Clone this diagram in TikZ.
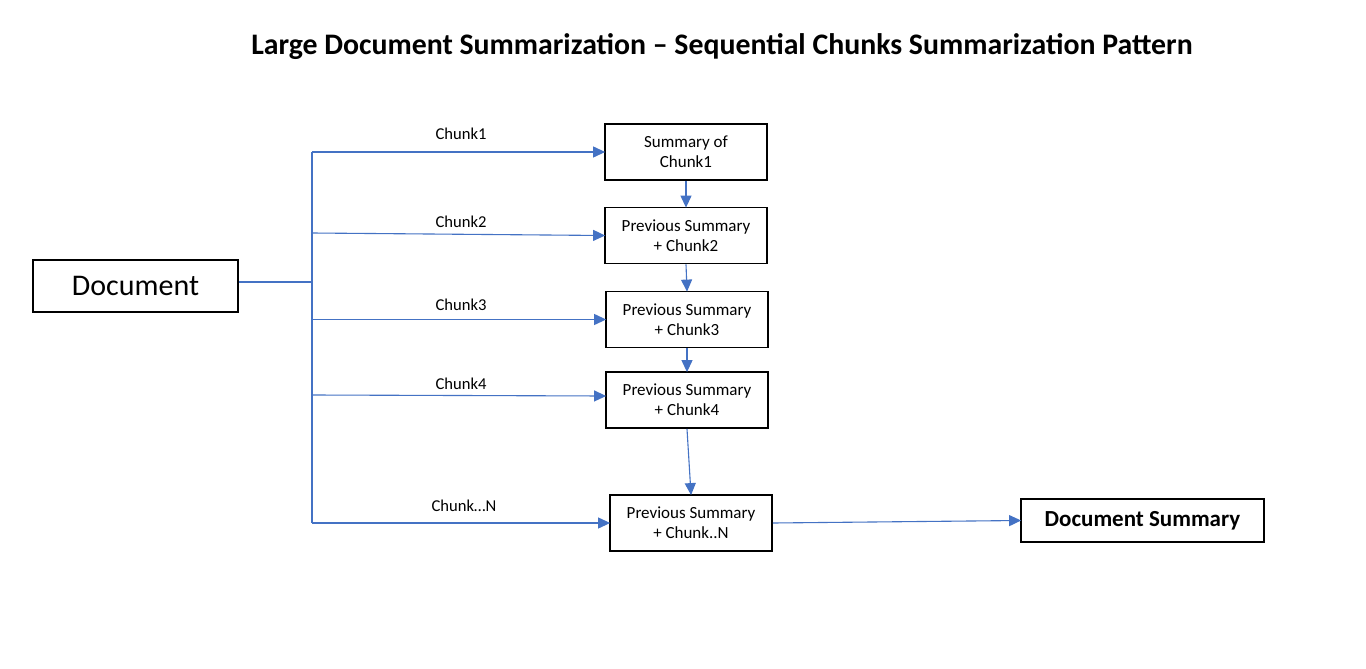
\documentclass[tikz,border=0pt]{standalone}
\usepackage{fontspec}
\setmainfont{Carlito}
\usetikzlibrary{arrows.meta}
\definecolor{conn}{HTML}{4472C4}
\tikzset{
  box/.style={draw=black, line width=1.8pt, fill=white, inner sep=0pt, align=center},
  stepbox/.style={box, minimum width=162pt, minimum height=56pt, font=\fontsize{17}{20}\selectfont},
  lbl/.style={inner sep=0pt, font=\fontsize{16.6}{19}\selectfont},
  conn/.style={draw=conn, line width=1.1pt},
  arr/.style={conn, -{Triangle[length=12pt,width=11pt]}, shorten >=-1pt}
}
\begin{document}
\begin{tikzpicture}[x=1pt,y=-1pt]
\useasboundingbox[fill=white] (0,0) rectangle (1366,669);
\node[inner sep=0pt, font=\fontsize{29.8}{34}\selectfont\bfseries] (title) at (722,47) {Large Document Summarization -- Sequential Chunks Summarization Pattern};
\node[box, minimum width=205pt, minimum height=52pt, font=\fontsize{30}{34}\selectfont] (doc) at (135.5,286) {Document};
\node[stepbox] (b1) at (686,152) {Summary of\\Chunk1};
\node[stepbox] (b2) at (686,235.5) {Previous Summary\\+ Chunk2};
\node[stepbox] (b3) at (687,319.5) {Previous Summary\\+ Chunk3};
\node[stepbox] (b4) at (687,400) {Previous Summary\\+ Chunk4};
\node[stepbox] (b5) at (691,523) {Previous Summary\\+ Chunk..N};
\node[box, minimum width=243pt, minimum height=43pt, font=\fontsize{23}{27}\selectfont\bfseries] (ds) at (1142.5,520.5) {Document Summary};
\coordinate (j) at (312,282);
\coordinate (t1) at (312,152);
\coordinate (t2) at (312,233);
\coordinate (t3) at (312,319.5);
\coordinate (t4) at (312,395);
\coordinate (t5) at (312,523);
\draw[conn] (j -| doc.east) -- (j);
\draw[conn] (t1) -- (t5);
\draw[arr] (t1) -- (b1.west);
\draw[arr] (t2) -- (b2.west);
\draw[arr] (t3) -- (b3.west);
\draw[arr] (t4) -- ([yshift=4pt]b4.west);
\draw[arr] (t5) -- (b5.west);
\draw[arr] (b1.south) -- (b2.north);
\draw[arr] (b2.south) -- (b3.north);
\draw[arr] (b3.south) -- (b4.north);
\draw[arr] (b4.south) -- (b5.north);
\draw[arr] (b5.east) -- (ds.west);
\node[lbl] (l1) at (461,134) {Chunk1};
\node[lbl] (l2) at (461,222) {Chunk2};
\node[lbl] (l3) at (461,305) {Chunk3};
\node[lbl] (l4) at (461,384) {Chunk4};
\node[lbl] (l5) at (464,506) {Chunk…N};
\end{tikzpicture}
\end{document}
